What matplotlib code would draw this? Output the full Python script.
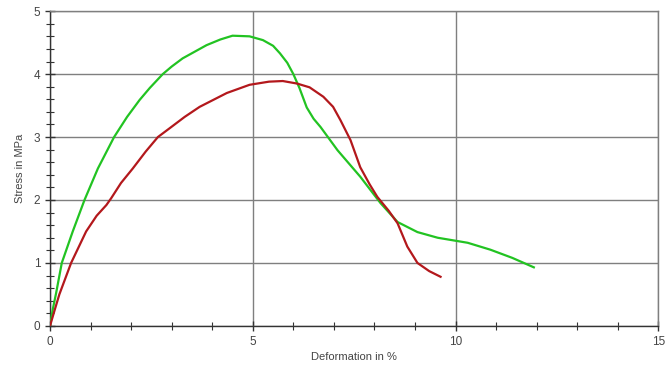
import matplotlib
matplotlib.use("Agg")
import matplotlib.pyplot as plt
from matplotlib.ticker import MultipleLocator

plt.rcParams["font.family"] = ["Liberation Sans", "DejaVu Sans"]

# ── data ─────────────────────────────────────────────────────────────────────
green_x = [0, 0.07, 0.15, 0.29, 0.56, 0.85, 1.18, 1.58, 1.9, 2.21, 2.46, 2.78, 3.0,
           3.27, 3.86, 4.2, 4.5, 4.92, 5.25, 5.5, 5.67, 5.85, 6.0, 6.15, 6.33, 6.5,
           6.67, 7.09, 7.65, 8.15, 8.57, 9.06, 9.56, 10.3, 10.86, 11.4, 11.93]
green_y = [0, 0.27, 0.52, 1.0, 1.5, 2.0, 2.5, 3.0, 3.32, 3.59, 3.78, 4.0, 4.12,
           4.25, 4.46, 4.55, 4.61, 4.60, 4.54, 4.45, 4.33, 4.18, 4.0, 3.78, 3.47, 3.29,
           3.16, 2.79, 2.37, 1.95, 1.65, 1.49, 1.40, 1.32, 1.21, 1.08, 0.93]

red_x = [0, 0.1, 0.23, 0.52, 0.89, 1.15, 1.39, 1.51, 1.75, 2.04, 2.36, 2.66, 2.95,
         3.32, 3.69, 4.36, 4.92, 5.4, 5.74, 6.09, 6.4, 6.74, 6.98, 7.16, 7.41, 7.65,
         7.88, 8.07, 8.35, 8.57, 8.81, 9.06, 9.35, 9.63]
red_y = [0, 0.22, 0.5, 1.0, 1.5, 1.75, 1.92, 2.03, 2.27, 2.5, 2.77, 3.0, 3.14,
         3.32, 3.48, 3.70, 3.83, 3.88, 3.89, 3.85, 3.79, 3.64, 3.48, 3.27, 2.95, 2.52,
         2.25, 2.05, 1.83, 1.63, 1.26, 1.0, 0.87, 0.78]

C_GREEN = "#22c322"
C_RED = "#b3181c"
C_GRID = "#7f7f7f"
C_TEXT = "#444444"

# ── figure ───────────────────────────────────────────────────────────────────
fig = plt.figure(figsize=(6.67, 3.72), dpi=100)
ax = fig.add_axes([0.075, 0.124, 0.912, 0.846])

ax.plot(green_x, green_y, color=C_GREEN, lw=1.6, zorder=3, solid_joinstyle="round")
ax.plot(red_x, red_y, color=C_RED, lw=1.6, zorder=3, solid_joinstyle="round")

ax.set_xlim(0, 15)
ax.set_ylim(0, 5)
ax.xaxis.set_major_locator(MultipleLocator(5))
ax.xaxis.set_minor_locator(MultipleLocator(1))
ax.yaxis.set_major_locator(MultipleLocator(1))
ax.yaxis.set_minor_locator(MultipleLocator(0.2))
ax.grid(True, which="major", color=C_GRID, lw=1.0)

for side in ["top", "right"]:
    ax.spines[side].set_color(C_GRID)
    ax.spines[side].set_linewidth(1.0)
for side in ["left", "bottom"]:
    ax.spines[side].set_color("#333333")
    ax.spines[side].set_linewidth(1.0)

ax.tick_params(which="both", direction="inout", colors="#333333", labelcolor=C_TEXT,
               labelsize=8.5, top=False, right=False)
ax.tick_params(which="major", length=7, width=1.0)
ax.tick_params(which="minor", length=6, width=0.8)

ax.set_xlabel("Deformation in %", fontsize=8, color=C_TEXT, labelpad=3)
ax.set_ylabel("Stress in MPa", fontsize=8, color=C_TEXT, labelpad=6)

fig.savefig("out.png", dpi=100)
plt.close()
